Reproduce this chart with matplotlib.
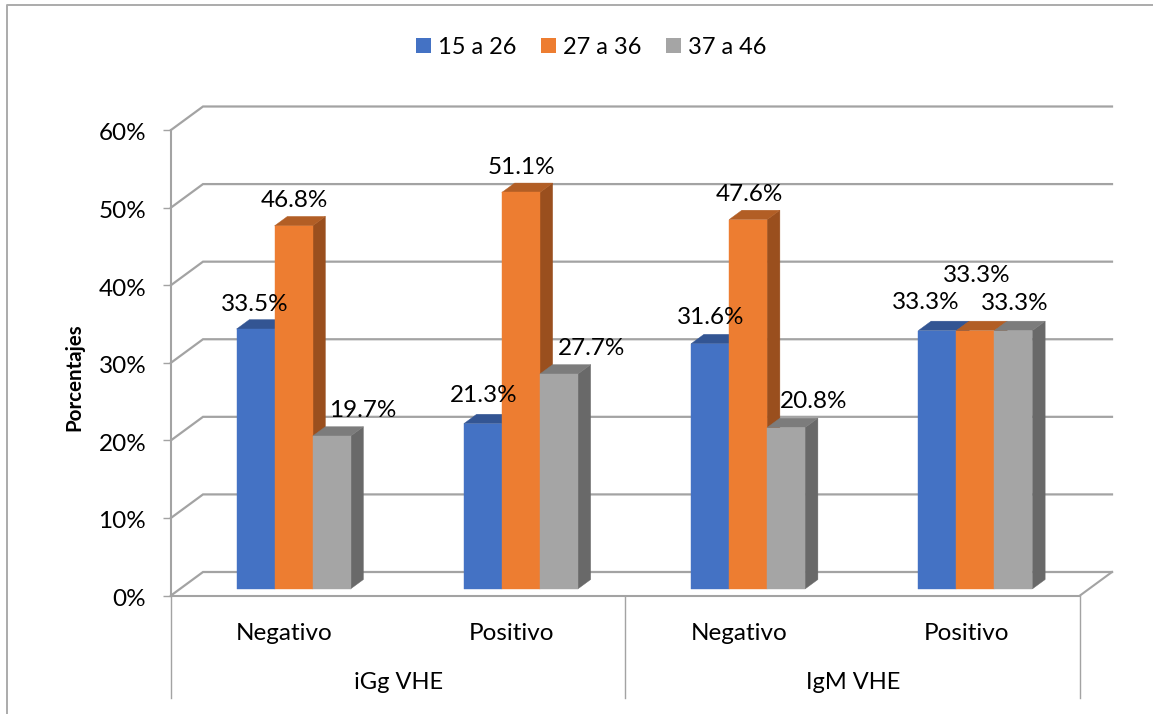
import matplotlib

matplotlib.use("Agg")
import matplotlib.pyplot as plt
from matplotlib.lines import Line2D
from matplotlib.patches import Patch, Polygon
from matplotlib.ticker import PercentFormatter
from matplotlib.transforms import ScaledTranslation

plt.rcParams["font.family"] = ["Lato", "DejaVu Sans"]

categories = ["Negativo", "Positivo", "Negativo", "Positivo"]
groups = ["iGg VHE", "IgM VHE"]
series_names = ["15 a 26", "27 a 36", "37 a 46"]
values_15_26 = [33.5, 21.3, 31.6, 33.3]
values_27_36 = [46.8, 51.1, 47.6, 33.3]
values_37_46 = [19.7, 27.7, 20.8, 33.3]
y_ticks = [0, 10, 20, 30, 40, 50, 60]

# front, top and side shades per series
FRONT = ["#4472C4", "#ED7D31", "#A5A5A5"]
TOP = ["#335593", "#B25E25", "#7C7C7C"]
SIDE = ["#2F5597", "#9A4F1E", "#696969"]
GRID = "#A3A3A3"
TEXT = "#000000"
FONT = 17.5

W, H = 1153, 714
LEFT, RIGHT, ZERO, TOPY = 171, 1080, 595.5, 130

# fake 3D: the back wall sits this far from the front plane, in data units
PX_X = (RIGHT - LEFT) / len(categories)
PX_Y = (ZERO - TOPY) / 60
WALL_DX = 32 / PX_X
WALL_DY = 23.5 / PX_Y
BAR_NEAR = 0.28
BAR_DEPTH = 0.40
BAR_W = 38 / PX_X

# label nudges in pixels from the top centre of each bar, one row per series
LABEL_DX = [[-1, 1, 1, -12], [1, 1, 1, 1], [31, 33, 28, 1]]
LABEL_DY = [[25, 28, 26, 28], [25, 25, 25, 55], [26, 26, 26, 27]]


def project(x, y, depth):
    return x + depth * WALL_DX, y + depth * WALL_DY


def draw_bar(ax, x0, value, front, top, side):
    d0, d1 = BAR_NEAR, BAR_NEAR + BAR_DEPTH
    x1 = x0 + BAR_W
    faces = [
        ([project(x1, 0, d0), project(x1, 0, d1), project(x1, value, d1), project(x1, value, d0)], side),
        ([project(x0, value, d0), project(x1, value, d0), project(x1, value, d1), project(x0, value, d1)], top),
        ([project(x0, 0, d0), project(x1, 0, d0), project(x1, value, d0), project(x0, value, d0)], front),
    ]
    for pts, color in faces:
        ax.add_patch(Polygon(pts, closed=True, facecolor=color, edgecolor=color, lw=0.3, zorder=3, clip_on=False))


fig = plt.figure(figsize=(W / 100, H / 100), dpi=100, facecolor="white")
ax = fig.add_axes([LEFT / W, 1 - ZERO / H, (RIGHT - LEFT) / W, (ZERO - TOPY) / H])
ax.set_xlim(0, len(categories))
ax.set_ylim(0, 60)
ax.patch.set_visible(False)

for name in ("top", "right"):
    ax.spines[name].set_visible(False)
for name in ("left", "bottom"):
    ax.spines[name].set_color(GRID)
    ax.spines[name].set_linewidth(1.5)

ax.set_yticks(y_ticks)
ax.yaxis.set_major_formatter(PercentFormatter(decimals=0))
ax.tick_params(axis="y", length=5.8, width=1, color=GRID, labelsize=FONT, labelcolor=TEXT, pad=12)
# nudge the tick text down so it sits level with the ticks
for lbl in ax.get_yticklabels():
    lbl.set_transform(lbl.get_transform() + ScaledTranslation(0, -2 / 100, fig.dpi_scale_trans))
ax.set_xticks([i + 0.5 for i in range(len(categories))], categories)
ax.tick_params(axis="x", length=0, labelsize=FONT, labelcolor=TEXT, pad=20)
ax.set_ylabel("Porcentajes", fontsize=14.8, fontweight="bold", color=TEXT)
ax.yaxis.set_label_coords((84 - LEFT) / (RIGHT - LEFT), 0.47)

# back wall gridlines and the diagonal on the left wall
for t in y_ticks:
    bx, by = project(0, t, 1)
    ex, _ = project(len(categories), t, 1)
    ax.plot([0, bx, ex], [t, by, by], color=GRID, lw=1.6, zorder=1, clip_on=False, solid_joinstyle="miter")
# floor edge on the right
ax.plot([4, project(4, 0, 1)[0]], [0, project(4, 0, 1)[1]], color=GRID, lw=1.5, zorder=1, clip_on=False)

# bars and their value labels
all_series = [values_15_26, values_27_36, values_37_46]
group_start = 0.5 - 1.5 * BAR_W
for c in range(len(categories)):
    for s, vals in enumerate(all_series):
        x0 = c + group_start + s * BAR_W
        draw_bar(ax, x0, vals[c], FRONT[s], TOP[s], SIDE[s])
for c in range(len(categories)):
    for s, vals in enumerate(all_series):
        x0 = c + group_start + s * BAR_W
        ax.annotate(f"{vals[c]:.1f}%", project(x0 + BAR_W / 2, vals[c], BAR_NEAR),
                    xytext=(LABEL_DX[s][c], LABEL_DY[s][c]), textcoords="offset pixels",
                    ha="center", va="center", fontsize=FONT, color=TEXT, zorder=5, annotation_clip=False)

# multi-level category axis below the floor
sep = 102 / PX_Y
for x in (0, 2, 4):
    ax.plot([x, x], [0, -sep], color=GRID, lw=1, zorder=1, clip_on=False)
for i, name in enumerate(groups):
    ax.text(2 * i + 1, -87 / PX_Y, name, ha="center", va="center", fontsize=FONT - 0.5, color=TEXT)

handles = [Patch(facecolor=c, edgecolor="none", label=n) for c, n in zip(FRONT, series_names)]
fig.legend(handles=handles, loc="center", bbox_to_anchor=(591.5 / W, 1 - 47 / H), ncol=3, frameon=False,
           fontsize=FONT - 0.5, labelcolor=TEXT, handlelength=0.62, handleheight=0.62, handletextpad=0.3,
           columnspacing=1.05)

# chart frame: only the top and left edges are inside the canvas
fig.add_artist(Line2D([7 / W, 7 / W, 1], [0, 1 - 5 / H, 1 - 5 / H], color="#ABABAB", lw=1.4))

fig.savefig("out.png", dpi=100)
plt.close(fig)
